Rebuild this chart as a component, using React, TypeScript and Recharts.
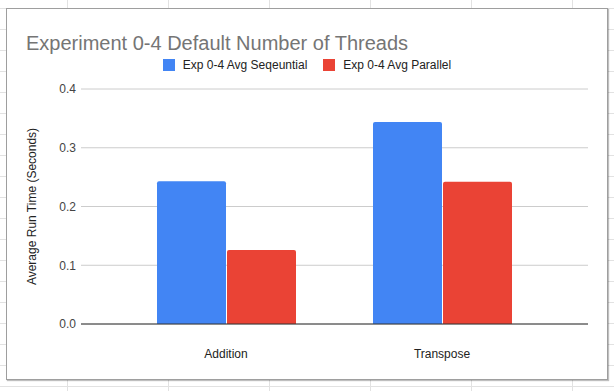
import { Bar, BarChart, CartesianGrid, Label, XAxis, YAxis } from "recharts";

const categories = ["Addition", "Transpose"];
const seqValues = [0.243, 0.344];
const parValues = [0.126, 0.242];
const yTicks = [0, 0.1, 0.2, 0.3, 0.4];

const SERIES = [
  { key: "seq", name: "Exp 0-4 Avg Seqeuntial", color: "#4285f4" },
  { key: "par", name: "Exp 0-4 Avg Parallel", color: "#ea4335" },
];

const FONT = "Arial, 'Liberation Sans', sans-serif";

const data = categories.map((name, i) => ({
  name,
  seq: seqValues[i],
  par: parValues[i],
}));

export default function App() {
  return (
    <div
      style={{
        position: "absolute",
        left: 0,
        top: 0,
        width: 614,
        height: 391,
        overflow: "hidden",
        background: "#fff",
        backgroundImage:
          "linear-gradient(to right, #e2e2e2 1px, transparent 1px), linear-gradient(to bottom, #e2e2e2 1px, transparent 1px)",
        backgroundSize: "101px 21px",
        backgroundPosition: "67px 8px",
        fontFamily: FONT,
      }}
    >
      {/* chart card */}
      <div
        style={{
          position: "absolute",
          left: 6,
          top: 8,
          width: 600,
          height: 370,
          background: "#fff",
          border: "1px solid #9e9e9e",
          boxShadow: "1px 1px 1px rgba(0,0,0,0.25)",
        }}
      />
      <div
        style={{
          position: "absolute",
          left: 26,
          top: 33,
          fontSize: 20,
          lineHeight: "20px",
          color: "#757575",
          whiteSpace: "nowrap",
        }}
      >
        Experiment 0-4 Default Number of Threads
      </div>
      <div
        style={{
          position: "absolute",
          left: 6,
          width: 602,
          top: 58,
          display: "flex",
          justifyContent: "center",
          gap: 16,
          fontSize: 12,
          lineHeight: "14px",
          color: "#222",
        }}
      >
        {SERIES.map((s) => (
          <div key={s.key} style={{ display: "flex", alignItems: "center" }}>
            <span
              style={{
                display: "inline-block",
                width: 12,
                height: 12,
                background: s.color,
                marginRight: 8,
              }}
            />
            <span>{s.name}</span>
          </div>
        ))}
      </div>
      <div style={{ position: "absolute", left: 0, top: 0 }}>
        <BarChart
          width={614}
          height={391}
          data={data}
          margin={{ top: 89, right: 26, bottom: 37, left: 0 }}
          barGap={1}
          barSize={69}
        >
          <CartesianGrid stroke="#cccccc" vertical={false} />
          <XAxis
            dataKey="name"
            height={30}
            padding={{ left: 37, right: 38 }}
            tickLine={false}
            tickSize={0}
            tickMargin={25}
            axisLine={{ stroke: "#333333" }}
            tick={{ fill: "#222", fontSize: 12, fontFamily: FONT }}
          />
          <YAxis
            width={81}
            domain={[0, 0.4]}
            ticks={yTicks}
            tickFormatter={(v: number) => v.toFixed(1)}
            axisLine={false}
            tickLine={false}
            tickSize={0}
            tickMargin={5}
            tick={{ fill: "#444", fontSize: 12, fontFamily: FONT }}
          >
            <Label
              value="Average Run Time (Seconds)"
              angle={-90}
              position="insideLeft"
              offset={32}
              style={{ textAnchor: "middle", fill: "#222", fontSize: 12, fontFamily: FONT }}
            />
          </YAxis>
          {SERIES.map((s) => (
            <Bar
              key={s.key}
              dataKey={s.key}
              name={s.name}
              fill={s.color}
              radius={[2, 2, 0, 0]}
              isAnimationActive={false}
            />
          ))}
        </BarChart>
      </div>
    </div>
  );
}
